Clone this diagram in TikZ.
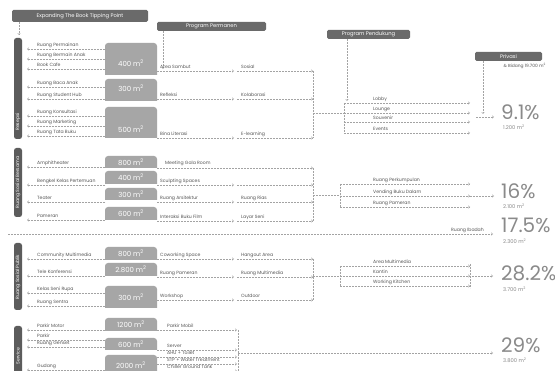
\documentclass[tikz,border=0pt]{standalone}
\usepackage{fontspec}
\setmainfont{Poppins}
\usetikzlibrary{arrows.meta}
\definecolor{hdrc}{HTML}{6A6A6A}
\definecolor{secc}{HTML}{5C5C5C}
\definecolor{boxc}{HTML}{A6A6A6}
\definecolor{pctc}{HTML}{8A8A8A}
\definecolor{lblc}{HTML}{555555}
\definecolor{lnc}{HTML}{A3A3A3}
\newcommand\msq{m\textsuperscript{2}}
\newcommand\lrow[3]{%
  \coordinate (#1s) at (105,#2);
  \coordinate (#1e) at (27,#2);
  \draw[arr] (#1s) -- (#1e);
  \node[lbl] (#1t) at (37,{#2-2}) {#3};}
\newcommand\abox[5]{%
  \fill[boxc] (105,#3) [rounded corners=3pt] -- (105,#2) -- (157,#2) [sharp corners] -- (157,#3) -- cycle;
  \node[btxt] (#1) at (131,#4) {#5};}
\newcommand\rrow[4]{%
  \coordinate (#1a) at (157,#2);
  \coordinate (#1m) at (234,#2);
  \coordinate (#1n) at (237,#2);
  \coordinate (#1b) at (313,#2);
  \draw[arr] (#1a) -- (#1m);
  \draw[arr] (#1n) -- (#1b);
  \node[lbl] (#1t) at (160,{#2-2}) {#3};
  \node[lbl] (#1u) at (241,{#2-2}) {#4};}
\newcommand\brow[4]{%
  \coordinate (#1a) at (#2,#3);
  \coordinate (#1b) at (470,#3);
  \draw[arr] (#1a) -- (#1b);
  \node[lbl] (#1t) at (373,{#3-2}) {#4};}
\newcommand\srow[3]{%
  \coordinate (#1a) at (157,#2);
  \coordinate (#1b) at (237,#2);
  \draw[arr] (#1a) -- (#1b);
  \node[lbl] (#1t) at (167,{#2-2.5}) {#3};}
\begin{document}
\begin{tikzpicture}[x=1pt,y=-1pt,
  lbl/.style={font=\fontsize{4.6}{5}\selectfont, text=lblc, inner sep=0pt, anchor=base west},
  btxt/.style={font=\fontsize{7}{8}\selectfont, text=white, inner sep=0pt},
  dl/.style={draw=lnc, dash pattern=on 1.8pt off 1.2pt, line width=0.45pt},
  arr/.style={dl, -{Straight Barb[length=1.5pt,width=2.6pt]}},
  hdr/.style={fill=hdrc, rounded corners=1.5pt, text=white, font=\fontsize{5.2}{6}\selectfont, inner sep=0pt, minimum height=9pt},
  secbar/.style={fill=secc, rounded corners=2.5pt},
  seclbl/.style={text=white, font=\fontsize{4.6}{5}\selectfont, rotate=90, inner sep=0pt},
  pct/.style={text=pctc, font=\fontsize{20}{22}\selectfont, inner sep=0pt, text depth=0pt, anchor=base west},
  sub/.style={text=pctc, font=\fontsize{5.2}{6}\selectfont, inner sep=0pt, anchor=base west}
]
\useasboundingbox[fill=white] (0,0) rectangle (555,371);

% ---------- headers ----------
\node[hdr, minimum width=136pt, minimum height=12pt] (h0) at (80,16) {Expanding The Book Tipping Point};
\node[hdr, minimum width=109pt] (h1) at (211.5,26.5) {Program Permanen};
\node[hdr, minimum width=83pt] (h2) at (368.5,34.5) {Program Pendukung};
\node[hdr, minimum width=67pt] (h3) at (508.5,56.5) {Privasi};
\node[lbl, anchor=base east, font=\fontsize{4.4}{5}\selectfont] (h3t) at (546,68) {\& Bidang 19.700 \msq};

\coordinate (h0d) at (19,22);
\coordinate (s1top) at (19,35);
\draw[arr] (h0d) -- (s1top);
\coordinate (h1d) at (163,31);
\coordinate (h1e) at (163,69);
\draw[arr] (h1d) -- (h1e);
\coordinate (h2d) at (347,39);
\coordinate (h2e) at (347,101);
\draw[arr] (h2d) -- (h2e);
\coordinate (h3d) at (483,61);
\coordinate (h3e) at (483,114);
\draw[arr] (h3d) -- (h3e);

% ---------- section bars ----------
\fill[secbar] (14,38) rectangle (22,139);
\node[seclbl] (s1) at (18,122) {Resepsi};
\fill[secbar] (14,148) rectangle (22,217);
\node[seclbl] (s2) at (18,182.5) {Ruang Sosial Bersama};
\fill[secbar] (14,243) rectangle (22,310);
\node[seclbl] (s3) at (18,277) {Ruang Sosial Publik};
\fill[secbar] (14,326) rectangle (22,380);
\node[seclbl] (s4) at (18,356) {Service};

% ---------- section 1 ----------
\lrow{a1}{49}{Ruang Permainan}
\lrow{a2}{59}{Ruang Bermain Anak}
\lrow{a3}{69}{Book Cafe}
\lrow{a4}{87}{Ruang Baca Anak}
\lrow{a5}{99}{Ruang Student Hub}
\lrow{a6}{116}{Ruang Konsultasi}
\lrow{a7}{126}{Ruang Marketing}
\lrow{a8}{136}{Ruang Tata Buku}
\abox{b1}{43}{75}{63}{400 \msq}
\abox{b2}{79}{101}{88}{300 \msq}
\abox{b3}{107}{138}{129}{500 \msq}
\rrow{r1}{71}{Area Sambut}{Sosial}
\rrow{r2}{99}{Refleksi}{Kolaborasi}
\rrow{r3}{138}{Bina Literasi}{E-learning}
\coordinate (v1t) at (313,71);
\coordinate (v1b) at (313,138);
\draw[dl] (v1t) -- (v1b);
\coordinate (v1m) at (313,113);
\coordinate (k1m) at (344,113);
\draw[dl] (v1m) -- (k1m);
\coordinate (k1t) at (344,103);
\coordinate (k1b) at (344,133);
\draw[dl] (k1t) -- (k1b);
\brow{c1}{344}{103}{Lobby}
\brow{c2}{344}{113}{Lounge}
\brow{c3}{344}{122}{Souvenir}
\brow{c4}{344}{133}{Events}
\coordinate (p1a) at (476,117);
\coordinate (p1b) at (494,117);
\draw[arr] (p1a) -- (p1b);
\node[pct] (p1) at (501,119.5) {9.1\%};
\node[sub] (p1s) at (503,129.5) {1.200 \msq};

% ---------- section 2 ----------
\lrow{d1}{167}{Amphitheater}
\lrow{d2}{185}{Bengkel Kelas Pertemuan}
\lrow{d3}{202}{Teater}
\lrow{d4}{220}{Pameran}
\abox{e1}{156}{168}{162}{800 \msq}
\abox{e2}{171}{184}{177.5}{400 \msq}
\abox{e3}{188}{200}{194}{300 \msq}
\abox{e4}{207}{220}{213.5}{600 \msq}
\coordinate (f1a) at (157,168);
\coordinate (f1b) at (313,168);
\draw[arr] (f1a) -- (f1b);
\node[lbl] (f1t) at (165,165) {Meeting Gala Room};
\rrow{f2}{185}{Sculpting Spaces}{}
\rrow{f3}{202}{Ruang Arsitektur}{Ruang Rias}
\rrow{f4}{221}{Interaksi Buku Film}{Layar Seni}
\coordinate (v2t) at (313,168);
\coordinate (v2b) at (313,221);
\draw[dl] (v2t) -- (v2b);
\coordinate (v2m) at (313,195);
\coordinate (k2m) at (340,195);
\draw[dl] (v2m) -- (k2m);
\coordinate (k2t) at (340,184);
\coordinate (k2b) at (340,207);
\draw[dl] (k2t) -- (k2b);
\brow{g1}{340}{184}{Ruang Perkumpulan}
\brow{g2}{340}{196}{Vending Buku Dalam}
\brow{g3}{340}{207}{Ruang Pameran}
\coordinate (p2a) at (470,196);
\coordinate (p2b) at (494,196);
\draw[arr] (p2a) -- (p2b);
\node[pct] (p2) at (501,199) {16\%};
\node[sub] (p2s) at (503,209) {2.100 \msq};

% ---------- 17.5 line ----------
\coordinate (q1a) at (8,234);
\coordinate (q1b) at (493,234);
\draw[arr] (q1a) -- (q1b);
\node[lbl, anchor=base east] (q1t) at (484,232) {Ruang Ibadah};
\node[pct] (p3) at (501,233) {17.5\%};
\node[sub] (p3s) at (503,244) {2.300 \msq};

% ---------- section 3 ----------
\lrow{h1}{259}{Community Multimedia}
\lrow{h2}{276}{Tele Konferensi}
\lrow{h3}{293}{Kelas Seni Rupa}
\lrow{h4}{306}{Ruang Sentra}
\abox{i1}{247}{260}{253.5}{800 \msq}
\abox{i2}{263}{276}{269.5}{2.800 \msq}
\abox{i3}{286}{308}{297}{300 \msq}
\rrow{j1}{259}{Coworking Space}{Hangout Area}
\rrow{j2}{277}{Ruang Pameran}{Ruang Multimedia}
\rrow{j3}{300}{Workshop}{Outdoor}
\coordinate (v3t) at (313,259);
\coordinate (v3b) at (313,300);
\draw[dl] (v3t) -- (v3b);
\coordinate (v3m) at (313,276);
\coordinate (k3m) at (340,276);
\draw[dl] (v3m) -- (k3m);
\coordinate (k3t) at (340,266);
\coordinate (k3b) at (340,286);
\draw[dl] (k3t) -- (k3b);
\brow{m1}{340}{266}{Area Multimedia}
\brow{m2}{340}{276}{Kantin}
\brow{m3}{340}{286}{Working Kitchen}
\coordinate (k4t) at (470,264);
\coordinate (k4b) at (470,288);
\draw[dl] (k4t) -- (k4b);
\coordinate (p4a) at (472,276);
\coordinate (p4b) at (493,276);
\draw[arr] (p4a) -- (p4b);
\node[pct] (p4) at (501,280.5) {28.2\%};
\node[sub] (p4s) at (503,291.5) {3.700 \msq};

% ---------- section 4 ----------
\lrow{n1}{330}{Parkir Motor}
\lrow{n2}{340}{Parkir}
\lrow{n3}{347}{Ruang Genset}
\lrow{n4}{370}{Gudang}
\abox{o1}{318}{331}{324.5}{1200 \msq}
\abox{o2}{338}{350}{344}{600 \msq}
\abox{o3}{355}{385}{365}{2000 \msq}
\srow{t1}{330}{Parkir Mobil}
\srow{t2}{350}{Server}
\srow{t3}{357}{AHU + Toilet}
\srow{t4}{364}{STP + Water Treatment}
\srow{t5}{371}{Chiller Ground Tank}
\coordinate (v4t) at (238,330);
\coordinate (v4b) at (238,375);
\draw[dl] (v4t) -- (v4b);
\coordinate (p5a) at (238,353);
\coordinate (p5b) at (493,353);
\draw[arr] (p5a) -- (p5b);
\node[pct] (p5) at (501,353) {29\%};
\node[sub] (p5s) at (503,363) {3.800 \msq};
\end{tikzpicture}
\end{document}
